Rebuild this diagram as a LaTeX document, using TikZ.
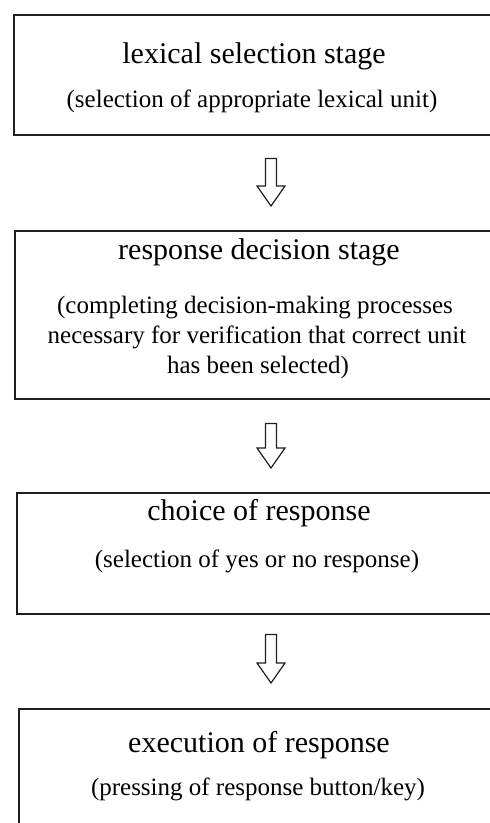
\documentclass[tikz,border=0pt]{standalone}
\usepackage{fontspec}
\setmainfont{Liberation Serif}
\usetikzlibrary{calc}

\tikzset{
  stagebox/.style={draw=black!88, line width=1.5pt, rectangle, anchor=north west,
    inner sep=0pt, minimum width=495pt},
  titletext/.style={anchor=base, inner sep=0pt, text=black,
    font=\fontsize{30}{30}\selectfont},
  subtext/.style={anchor=base, inner sep=0pt, text=black,
    font=\fontsize{25}{30}\selectfont},
  flowarrow/.style={draw=black!88, line width=1.2pt, fill=white, line join=miter}
}

% hollow block arrow from #1 (top of shaft) to #2 (tip)
\newcommand\blockarrow[2]{%
  \path[flowarrow] let \p1=(#1), \p2=(#2) in
    (\x1-5.5pt,\y1) -- (\x1+5.5pt,\y1) -- (\x1+5.5pt,\y2+20pt)
    -- (\x1+14pt,\y2+20pt) -- (\x1,\y2) -- (\x1-14pt,\y2+20pt)
    -- (\x1-5.5pt,\y2+20pt) -- cycle;}

\begin{document}
\begin{tikzpicture}[x=1pt,y=-1pt]
  \useasboundingbox (0,0) rectangle (490,823);
  \clip (0,0) rectangle (490,823);

  % stage boxes (they run past the right edge)
  \node[stagebox, minimum height=120pt] (b1) at (13,14) {};
  \node[stagebox, minimum height=168pt] (b2) at (14,230) {};
  \node[stagebox, minimum height=121pt] (b3) at (16,492) {};
  \node[stagebox, minimum height=140pt] (b4) at (18,708) {};

  % box texts
  \node[titletext] (t1) at (254,63) {lexical selection stage};
  \node[subtext] (s1) at (252,107) {(selection of appropriate lexical unit)};

  \node[titletext] (t2) at (259,259) {response decision stage};
  \node[subtext] (s2a) at (255,313) {(completing decision-making processes};
  \node[subtext] (s2b) at (257,343) {necessary for verification that correct unit};
  \node[subtext] (s2c) at (258,373) {has been selected)};

  \node[titletext] (t3) at (259,520) {choice of response};
  \node[subtext]   (s3) at (257,567) {(selection of yes or no response)};

  \node[titletext] (t4) at (259,752) {execution of response};
  \node[subtext]   (s4) at (258,795) {(pressing of response button/key)};

  % arrow positions between the boxes
  \coordinate (ax) at (271,0);
  \coordinate (a1s) at ($(b1.south -| ax)+(0,23)$);
  \coordinate (a1e) at ($(b2.north -| ax)+(0,-24)$);
  \coordinate (a2s) at ($(b2.south -| ax)+(0,24)$);
  \coordinate (a2e) at ($(b3.north -| ax)+(0,-24)$);
  \coordinate (a3s) at ($(b3.south -| ax)+(0,20)$);
  \coordinate (a3e) at ($(b4.north -| ax)+(0,-25)$);

  \blockarrow{a1s}{a1e}
  \blockarrow{a2s}{a2e}
  \blockarrow{a3s}{a3e}
\end{tikzpicture}
\end{document}
